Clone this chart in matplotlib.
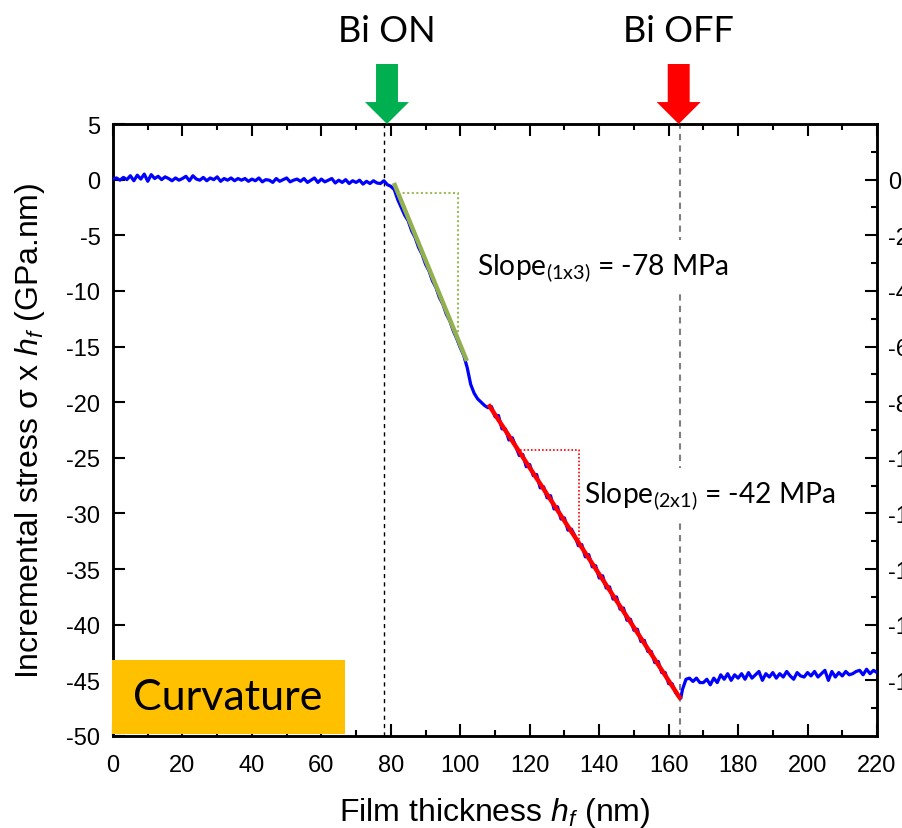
import matplotlib
matplotlib.use("Agg")
import matplotlib.pyplot as plt
from matplotlib.patches import Rectangle
from matplotlib.ticker import MultipleLocator, FixedLocator
import numpy as np

plt.rcParams['font.family'] = ['Liberation Sans', 'DejaVu Sans']
plt.rcParams['mathtext.fontset'] = 'custom'
plt.rcParams['mathtext.rm'] = 'Lato'
plt.rcParams['mathtext.it'] = 'Liberation Sans:italic'
plt.rcParams['axes.unicode_minus'] = False

# ---- data ----
thickness = [0, 1, 2, 3, 4, 5, 6, 7, 8, 9, 10, 11, 12, 13, 14, 15, 16, 17, 18, 19,
             20, 21, 22, 23, 24, 25, 26, 27, 28, 29, 30, 31, 32, 33, 34, 35, 36, 37, 38, 39,
             40, 41, 42, 43, 44, 45, 46, 47, 48, 49, 50, 51, 52, 53, 54, 55, 56, 57, 58, 59,
             60, 61, 62, 63, 64, 65, 66, 67, 68, 69, 70, 71, 72, 73, 74, 75, 76, 77, 78, 79,
             80, 81, 82, 83, 84, 85, 86, 87, 88, 89, 90, 91, 92, 93, 94, 95, 96, 97, 98, 99,
             100, 101, 102, 103, 104, 105, 106, 107, 108, 109, 110, 111, 112, 113, 114, 115,
             116, 117, 118, 119, 120, 121, 122, 123, 124, 125, 126, 127, 128, 129, 130, 131,
             132, 133, 134, 135, 136, 137, 138, 139, 140, 141, 142, 143, 144, 145, 146, 147,
             148, 149, 150, 151, 152, 153, 154, 155, 156, 157, 158, 159, 160, 161, 162, 163,
             163.5, 164, 165, 166, 167, 168, 169, 170, 171, 172, 173, 174, 175, 176, 177, 178,
             179, 180, 181, 182, 183, 184, 185, 186, 187, 188, 189, 190, 191, 192, 193, 194,
             195, 196, 197, 198, 199, 200, 201, 202, 203, 204, 205, 206, 207, 208, 209, 210,
             211, 212, 213, 214, 215, 216, 217, 218, 219, 220]
stress = [0.05, 0.15, -0.05, 0.2, 0.0, 0.35, -0.1, 0.4, 0.05, 0.5, -0.15, 0.45, 0.1, 0.3, 0.0, 0.25,
          0.1, -0.1, 0.15, -0.05, 0.1, 0.3, -0.1, 0.35, 0.05, -0.05, 0.2, -0.1, 0.15, 0.0, 0.25, -0.15,
          0.1, -0.05, 0.15, -0.1, 0.1, -0.05, 0.1, -0.15, 0.05, -0.1, 0.15, -0.2, 0.0, -0.05, -0.25,
          0.1, -0.15, 0.0, 0.15, -0.2, -0.05, 0.05, -0.15, 0.1, -0.25, -0.05, 0.15, -0.25, 0.05,
          -0.2, -0.05, 0.1, -0.3, -0.05, -0.25, 0.0, -0.35, -0.1, -0.25, -0.05, -0.4, -0.15, -0.35,
          -0.1, -0.3, -0.35, -0.1, -0.45, -0.6, -0.9,
          -1.8, -2.5, -3.2, -3.7, -4.6, -5.2, -6.1, -6.7, -7.6, -8.2, -9.1, -9.7, -10.6, -11.2,
          -12.1, -12.7, -13.6, -14.3, -15.1, -15.8, -16.9, -18.4, -19.2, -19.7, -20.0, -20.3,
          -20.5, -20.4, -21.3, -21.2, -22.4, -22.4, -23.4, -23.2, -24.0, -24.8, -24.7, -25.8,
          -25.6, -26.6, -26.5, -27.7, -27.6, -28.6, -28.4, -29.6, -29.4, -30.5, -30.4, -31.5,
          -31.4, -32.0, -32.9, -32.8, -33.9, -33.7, -34.8, -34.7, -35.8, -35.6, -36.7, -36.6,
          -37.7, -37.5, -38.6, -38.5, -39.6, -39.5, -40.5, -40.4, -41.5, -41.4, -42.4, -42.4,
          -43.4, -43.3, -44.3, -44.3, -45.3, -45.3, -46.1, -46.5, -46.6, -45.8, -44.9,
          -44.8, -45.1, -44.8, -45.2, -45.2, -44.9, -45.4, -44.8, -45.2, -44.5, -44.9, -44.4,
          -45.0, -44.5, -44.8, -44.4, -44.9, -44.3, -44.8, -44.5, -44.2, -45.0, -44.4, -44.7,
          -44.3, -44.8, -44.4, -44.7, -44.2, -44.6, -44.9, -44.3, -44.6, -44.7, -44.3, -44.6,
          -44.2, -44.7, -44.4, -44.1, -45.0, -44.2, -44.7, -44.3, -44.6, -44.2, -44.5, -44.4,
          -44.2, -44.1, -44.5, -44.0, -44.4, -44.1, -44.3]

fit_1x3_x = [80.9, 101.9]
fit_1x3_y = [-0.3, -16.3]
tri_1x3_x = [82.0, 99.3, 99.3]
tri_1x3_y = [-1.2, -1.2, -14.0]

fit_2x1_x = [108.1, 163.5]
fit_2x1_y = [-20.2, -46.7]
tri_2x1_x = [117.2, 134.2, 134.2]
tri_2x1_y = [-24.3, -24.3, -32.4]

bi_on_x = 78.1
bi_off_x = 163.2

xticks = [0, 20, 40, 60, 80, 100, 120, 140, 160, 180, 200, 220]
yticks = [5, 0, -5, -10, -15, -20, -25, -30, -35, -40, -45, -50]
right_ticks = [0, -2, -4, -6, -8, -10, -12, -14, -16, -18]

# ---- figure ----
fig = plt.figure(figsize=(9.03, 8.29), dpi=100)
ax = fig.add_axes([113/903, 1-737/829, 764/903, 612/829])

ax.plot(thickness, stress, color='#0000FF', lw=2.3, zorder=3)
ax.plot(fit_1x3_x, fit_1x3_y, color='#92B04E', lw=3.2, zorder=4, solid_capstyle='butt')
ax.plot(tri_1x3_x, tri_1x3_y, color='#9BBB59', lw=1.5, ls=(0, (1, 1.2)), zorder=4)
ax.plot(fit_2x1_x, fit_2x1_y, color='#FF0000', lw=3.2, zorder=4, solid_capstyle='butt')
ax.plot(tri_2x1_x, tri_2x1_y, color='#FF0000', lw=1.2, ls=(0, (1, 1.2)), zorder=4)

ax.axvline(bi_on_x, color='black', lw=1.0, ls=(0, (3, 3)), zorder=2)
ax.axvline(bi_off_x, color='#7F7F7F', lw=1.5, ls=(0, (3, 2.5)), zorder=2)

ax.set_xlim(0, 220)
ax.set_ylim(-50, 5)
ax.set_xticks(xticks)
ax.set_yticks(yticks)
ax.xaxis.set_minor_locator(MultipleLocator(10))
ax.tick_params(axis='x', which='both', direction='in', top=True, bottom=True,
               labelsize=17, pad=13)
ax.tick_params(axis='x', which='major', length=8.5, width=1.5)
ax.tick_params(axis='x', which='minor', length=4.5, width=1.5)
ax.tick_params(axis='y', which='major', direction='in', length=8.5, width=1.5,
               labelsize=17, pad=9, right=False)
for s in ax.spines.values():
    s.set_linewidth(1.8)

ax.set_xlabel('Film thickness $h_f$ (nm)', fontsize=23, labelpad=13.5)
ax.set_ylabel('Incremental stress σ x $h_f$ (GPa.nm)', fontsize=23, labelpad=14)

# right axis
ax2 = ax.twinx()
ax2.set_ylim(-20, 2)
ax2.yaxis.set_major_locator(FixedLocator(right_ticks))
ax2.yaxis.set_minor_locator(FixedLocator([1, -1, -3, -5, -7, -9, -11, -13, -15, -17, -19]))
ax2.tick_params(axis='y', which='major', direction='in', length=8.5, width=1.5,
                labelsize=17, pad=8)
ax2.tick_params(axis='y', which='minor', direction='in', length=4.5, width=1.5)
for s in ax2.spines.values():
    s.set_linewidth(1.8)
ax2.set_zorder(ax.get_zorder() - 1)
ax.patch.set_visible(False)

# slope labels
box = dict(facecolor='white', edgecolor='none', pad=8)
ax.text(104.8, -8.45, 'Slope$_{\\mathrm{(1x3)}}$ = -78 MPa', family='Lato', fontsize=20.3,
        ha='left', va='baseline', bbox=box, zorder=3.5)
ax.text(135.6, -28.9, 'Slope$_{\\mathrm{(2x1)}}$ = -42 MPa', family='Lato', fontsize=20.3,
        ha='left', va='baseline', bbox=box, zorder=3.5)

# curvature box
ax.add_patch(Rectangle((-0.4, -49.85), 67.3, 6.65, facecolor='#FFC000', edgecolor='none',
                       zorder=6, clip_on=False))
ax.text(33.0, -46.5, 'Curvature', family='Lato', fontsize=31, ha='center', va='center',
        zorder=7)

# arrows and labels
for xpos, col, lab in [(bi_on_x + 0.8, '#00B050', 'Bi ON'), (bi_off_x - 0.3, '#FF0000', 'Bi OFF')]:
    ax.annotate('', xy=(xpos, 5), xycoords='data', xytext=(0, 60), textcoords='offset pixels',
                arrowprops=dict(arrowstyle='simple,head_length=15.8,head_width=31.7,tail_width=15.8',
                                mutation_scale=1, color=col, shrinkA=0, shrinkB=0, lw=0),
                annotation_clip=False)
    ax.annotate(lab, xy=(xpos, 5), xycoords='data', xytext=(0, 83), textcoords='offset pixels',
                ha='center', va='baseline', family='Lato', fontsize=26, annotation_clip=False)

fig.savefig('out.png', dpi=100)
